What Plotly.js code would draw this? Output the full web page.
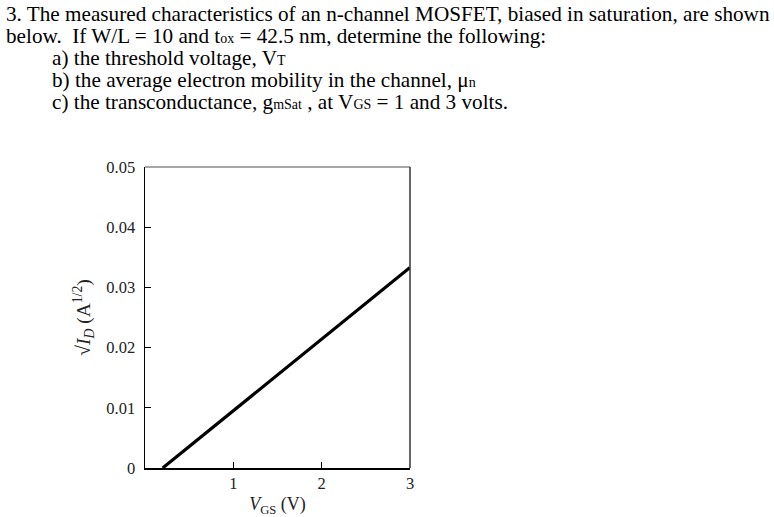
<!DOCTYPE html>
<html>
<head>
<meta charset="utf-8">
<script src="https://cdn.plot.ly/plotly-3.0.1.min.js"></script>
<style>html,body{margin:0;padding:0;background:#fff;}#chart{width:774px;height:517px;}</style>
</head>
<body>
<div id="chart"></div>
<script>
// Data
const vgs = [0.2, 1.0, 2.0, 3.0];
const sqrtId = [0.0, 0.0095, 0.0214, 0.0333];
const yTicks = [0, 0.01, 0.02, 0.03, 0.04, 0.05];
const yTickLabels = ["0", "0.01", "0.02", "0.03", "0.04", "0.05"];
const xTicks = [1, 2, 3];
const xTickLabels = ["1", "2", "3"];
const S = s => "<span style='font-size:14px'>" + s + "</span>";
const questionLines = [
  "3. The measured characteristics of an n-channel MOSFET, biased in saturation, are shown",
  "below.  If W/L = 10 and t" + S("ox") + " = 42.5 nm, determine the following:",
  "a) the threshold voltage, V" + S("T"),
  "b) the average electron mobility in the channel, μ" + S("n"),
  "c) the transconductance, g" + S("mSat") + " , at V" + S("GS") + " = 1 and 3 volts."
];

const L = 145, R = 410, T = 167, B = 468;
const pxX = px => (px - L) / (R - L);
const pxY = py => (B - py) / (B - T);

const lineX = [4, 4, 50, 50, 50];
const lineY = [14, 36, 58, 80, 102];
const tfont = {family: "Liberation Serif, serif", size: 21.2, color: "#000"};

const annotations = questionLines.map((t, i) => ({
  text: t, xref: "paper", yref: "paper",
  x: pxX(lineX[i]), y: pxY(lineY[i]),
  xanchor: "left", yanchor: "middle", showarrow: false, font: tfont
}));

const trace = {
  x: vgs, y: sqrtId, type: "scatter", mode: "lines",
  line: {color: "#000", width: 3.2}, hoverinfo: "skip"
};

const axFont = {family: "Liberation Serif, serif", size: 16.5, color: "#222"};

const layout = {
  width: 774, height: 517,
  margin: {l: L, r: 774 - R, t: T, b: 517 - B, pad: 0},
  paper_bgcolor: "#fff", plot_bgcolor: "#fff",
  showlegend: false,
  xaxis: {
    range: [0, 3], tickvals: xTicks, ticktext: xTickLabels,
    ticks: "inside", ticklen: 6, tickwidth: 1, tickcolor: "#000",
    showline: true, linecolor: "#000", linewidth: 1.5, mirror: false,
    showgrid: false, zeroline: false, tickfont: axFont, ticklabelstandoff: 0,
    title: {text: "<i>V</i><sub>GS</sub> (V)", font: {family: "Liberation Serif, serif", size: 18, color: "#222"}, standoff: 8}
  },
  yaxis: {
    range: [0, 0.05], tickvals: yTicks, ticktext: yTickLabels,
    ticks: "inside", ticklen: 6, tickwidth: 1, tickcolor: "#000",
    showline: true, linecolor: "#000", linewidth: 1.5, mirror: false,
    showgrid: false, zeroline: false, tickfont: axFont, ticklabelstandoff: 5,
    title: {text: "√<i>I</i><sub><i>D</i></sub> (A<sup>1/2</sup>)", font: {family: "Liberation Serif, serif", size: 19.5, color: "#222"}, standoff: 10}
  },
  shapes: [
    {type: "line", xref: "paper", yref: "paper", x0: 0, x1: 1, y0: 1, y1: 1, line: {color: "#888", width: 1.5}},
    {type: "line", xref: "paper", yref: "paper", x0: 1, x1: 1, y0: 0, y1: 1, line: {color: "#333", width: 1.5}}
  ],
  annotations: annotations
};

Plotly.newPlot("chart", [trace], layout, {staticPlot: true, displayModeBar: false});
</script>
</body>
</html>
